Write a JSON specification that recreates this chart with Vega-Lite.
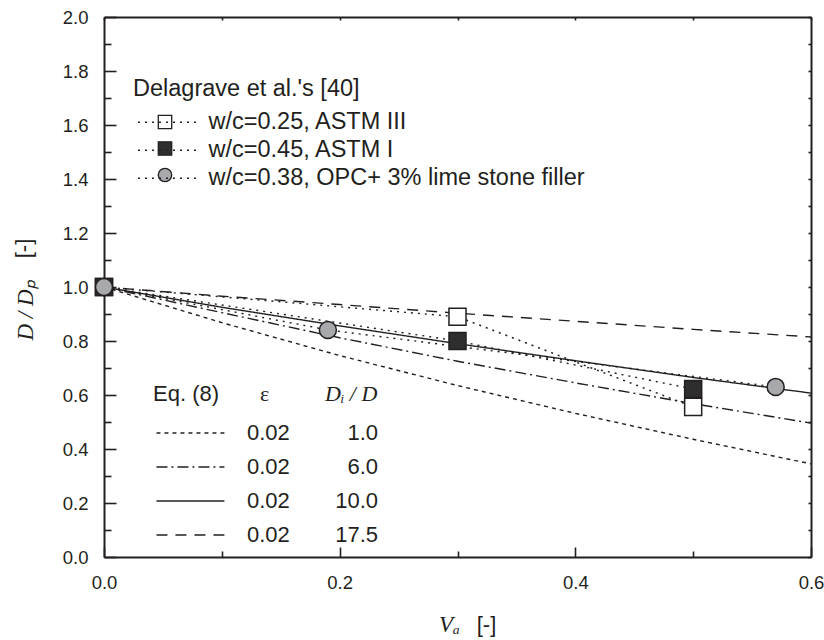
{
  "$schema": "https://vega.github.io/schema/vega-lite/v6.json",
  "width": 707,
  "height": 540,
  "autosize": {"type": "none"},
  "padding": {"left": 104, "top": 17, "right": 13, "bottom": 83},
  "background": "#ffffff",
  "datasets": {
    "model": [
      {"ratio": 1, "V": 0, "val": 1.0},
      {"ratio": 1, "V": 0.1, "val": 0.868},
      {"ratio": 1, "V": 0.2, "val": 0.746},
      {"ratio": 1, "V": 0.3, "val": 0.635},
      {"ratio": 1, "V": 0.4, "val": 0.532},
      {"ratio": 1, "V": 0.5, "val": 0.436},
      {"ratio": 1, "V": 0.6, "val": 0.345},
      {"ratio": 6, "V": 0, "val": 1.0},
      {"ratio": 6, "V": 0.1, "val": 0.905},
      {"ratio": 6, "V": 0.2, "val": 0.812},
      {"ratio": 6, "V": 0.3, "val": 0.725},
      {"ratio": 6, "V": 0.4, "val": 0.645},
      {"ratio": 6, "V": 0.5, "val": 0.568},
      {"ratio": 6, "V": 0.6, "val": 0.496},
      {"ratio": 10, "V": 0, "val": 1.0},
      {"ratio": 10, "V": 0.1, "val": 0.925},
      {"ratio": 10, "V": 0.2, "val": 0.856},
      {"ratio": 10, "V": 0.3, "val": 0.79},
      {"ratio": 10, "V": 0.4, "val": 0.727},
      {"ratio": 10, "V": 0.5, "val": 0.665},
      {"ratio": 10, "V": 0.6, "val": 0.607},
      {"ratio": 17.5, "V": 0, "val": 1.0},
      {"ratio": 17.5, "V": 0.1, "val": 0.966},
      {"ratio": 17.5, "V": 0.2, "val": 0.935},
      {"ratio": 17.5, "V": 0.3, "val": 0.903},
      {"ratio": 17.5, "V": 0.4, "val": 0.873},
      {"ratio": 17.5, "V": 0.5, "val": 0.843},
      {"ratio": 17.5, "V": 0.6, "val": 0.815}
    ],
    "measured": [
      {"series": "w/c=0.25, ASTM III", "V": 0, "val": 1.0},
      {"series": "w/c=0.25, ASTM III", "V": 0.3, "val": 0.89},
      {"series": "w/c=0.25, ASTM III", "V": 0.5, "val": 0.556},
      {"series": "w/c=0.45, ASTM I", "V": 0, "val": 1.0},
      {"series": "w/c=0.45, ASTM I", "V": 0.3, "val": 0.80},
      {"series": "w/c=0.45, ASTM I", "V": 0.5, "val": 0.622},
      {"series": "w/c=0.38, OPC+ 3% lime stone filler", "V": 0, "val": 1.0},
      {"series": "w/c=0.38, OPC+ 3% lime stone filler", "V": 0.19, "val": 0.841},
      {"series": "w/c=0.38, OPC+ 3% lime stone filler", "V": 0.57, "val": 0.63}
    ]
  },
  "layer": [
    {
      "data": {"name": "model"},
      "mark": {"type": "line", "color": "#231f20", "clip": true},
      "encoding": {
        "x": {
          "field": "V", "type": "quantitative",
          "scale": {"domain": [0, 0.6], "nice": false, "zero": false},
          "axis": {
            "orient": "bottom",
            "values": [0, 0.1, 0.2, 0.3, 0.4, 0.5, 0.6],
            "labelExpr": "round(datum.value*10) % 2 == 0 ? format(datum.value, '.1f') : ''",
            "tickSize": {"condition": {"test": "round(datum.value*10) % 2 == 0", "value": -10}, "value": -6},
            "labelPadding": 26.5,
            "title": "Vₐ",
            "titleFont": "Liberation Serif",
            "titleFontStyle": "italic",
            "titleFontSize": 23,
            "titleX": 345,
            "titleY": 56,
            "titleAlign": "center",
            "titleBaseline": "top"
          }
        },
        "y": {
          "field": "val", "type": "quantitative",
          "scale": {"domain": [0, 2], "nice": false, "zero": false},
          "axis": {
            "orient": "left",
            "values": [0, 0.1, 0.2, 0.3, 0.4, 0.5, 0.6, 0.7, 0.8, 0.9, 1.0, 1.1, 1.2, 1.3, 1.4, 1.5, 1.6, 1.7, 1.8, 1.9, 2.0],
            "labelExpr": "round(datum.value*10) % 2 == 0 ? format(datum.value, '.1f') : ''",
            "tickSize": {"condition": {"test": "round(datum.value*10) % 2 == 0", "value": -12}, "value": -7},
            "labelPadding": 28,
            "title": "D / Dₚ",
            "titleFont": "Liberation Serif",
            "titleFontStyle": "italic",
            "titleFontSize": 23,
            "titleAngle": 270,
            "titleX": -67,
            "titleY": 293,
            "titleAlign": "center",
            "titleBaseline": "bottom"
          }
        },
        "strokeDash": {
          "field": "ratio", "type": "nominal",
          "scale": {"range": [[4, 4], [11, 4, 2, 4], [1, 0], [11, 8]]},
          "legend": {
            "orient": "none", "legendX": 49, "legendY": 367,
            "title": "Eq. (8)",
            "labelExpr": "'0.02'",
            "symbolType": "M-1,0H8", "symbolSize": 228,
            "symbolStrokeWidth": 1.4, "symbolStrokeColor": "#231f20",
            "labelOffset": 72, "rowPadding": 12, "titlePadding": 16
          }
        },
        "opacity": {
          "field": "ratio", "type": "ordinal",
          "scale": {"domain": [1, 6, 10, 17.5], "range": [1, 1, 1, 1]},
          "legend": {
            "orient": "none", "legendX": 221, "legendY": 367,
            "title": "Dᵢ / D",
            "titleFont": "Liberation Serif", "titleFontStyle": "italic",
            "labelExpr": "format(datum.value, '.1f')",
            "symbolSize": 0, "symbolStrokeWidth": 0,
            "labelOffset": 31, "labelAlign": "right",
            "rowPadding": 12, "titlePadding": 16
          }
        },
        "strokeWidth": {
          "field": "ratio", "type": "ordinal",
          "scale": {"domain": [17.5, 10, 6, 1], "range": [1.4, 1.4, 1.4, 1.4]},
          "legend": {
            "orient": "none", "legendX": 156, "legendY": 367,
            "title": "ε",
            "titleFont": "Liberation Serif",
            "labelExpr": "''",
            "symbolSize": 0, "symbolStrokeWidth": 0,
            "rowPadding": 12, "titlePadding": 16
          }
        }
      }
    },
    {
      "data": {"name": "measured"},
      "mark": {"type": "line", "color": "#231f20", "strokeWidth": 1.4},
      "encoding": {
        "x": {
          "field": "V", "type": "quantitative",
          "axis": {
            "orient": "top",
            "values": [0, 0.1, 0.2, 0.3, 0.4, 0.5, 0.6],
            "labels": false,
            "tickSize": -3,
            "title": "[-]",
            "titleFont": "Liberation Sans",
            "titleFontSize": 22,
            "titleX": 382,
            "titleY": 597,
            "titleAlign": "center",
            "titleBaseline": "top"
          }
        },
        "y": {
          "field": "val", "type": "quantitative",
          "axis": {
            "orient": "right",
            "values": [0, 0.1, 0.2, 0.3, 0.4, 0.5, 0.6, 0.7, 0.8, 0.9, 1.0, 1.1, 1.2, 1.3, 1.4, 1.5, 1.6, 1.7, 1.8, 1.9, 2.0],
            "labels": false,
            "tickSize": -3,
            "title": "[-]",
            "titleFont": "Liberation Sans",
            "titleFontSize": 22,
            "titleAngle": 270,
            "titleX": -776,
            "titleY": 231,
            "titleAlign": "center",
            "titleBaseline": "bottom"
          }
        },
        "strokeDash": {
          "field": "series", "type": "nominal",
          "sort": ["w/c=0.25, ASTM III", "w/c=0.45, ASTM I", "w/c=0.38, OPC+ 3% lime stone filler"],
          "scale": {"range": [[2, 5], [2, 5], [2, 5]]},
          "legend": {
            "orient": "none", "legendX": 29, "legendY": 60,
            "title": "Delagrave et al.'s [40]",
            "titleFontSize": 23.5,
            "titleLimit": 700,
            "labelFontSize": 23.5,
            "symbolType": "M-1,0H8", "symbolSize": 184,
            "symbolStrokeWidth": 1.4, "symbolStrokeColor": "#231f20",
            "labelOffset": 52, "rowPadding": 3, "titlePadding": 10
          }
        }
      }
    },
    {
      "data": {"name": "measured"},
      "mark": {"type": "point", "filled": true, "size": 290, "strokeWidth": 1.5, "opacity": 1},
      "encoding": {
        "x": {"field": "V", "type": "quantitative", "axis": null},
        "y": {"field": "val", "type": "quantitative", "axis": null},
        "shape": {
          "field": "series", "type": "nominal",
          "scale": {
            "domain": ["w/c=0.25, ASTM III", "w/c=0.45, ASTM I", "w/c=0.38, OPC+ 3% lime stone filler"],
            "range": ["square", "square", "circle"]
          },
          "legend": {
            "orient": "none", "legendX": 50, "legendY": 94,
            "title": null, "labelExpr": "''",
            "symbolSize": 180, "symbolStrokeWidth": 1.3,
            "rowPadding": 4.5
          }
        },
        "fill": {
          "field": "series", "type": "nominal",
          "scale": {
            "domain": ["w/c=0.25, ASTM III", "w/c=0.45, ASTM I", "w/c=0.38, OPC+ 3% lime stone filler"],
            "range": ["#ffffff", "#2e2e2e", "#a7a9ac"]
          },
          "legend": {
            "orient": "none", "legendX": 50, "legendY": 94,
            "title": null, "labelExpr": "''",
            "symbolSize": 180, "symbolStrokeWidth": 1.3,
            "rowPadding": 4.5
          }
        },
        "stroke": {
          "field": "series", "type": "nominal",
          "scale": {
            "domain": ["w/c=0.25, ASTM III", "w/c=0.45, ASTM I", "w/c=0.38, OPC+ 3% lime stone filler"],
            "range": ["#231f20", "#231f20", "#231f20"]
          },
          "legend": {
            "orient": "none", "legendX": 50, "legendY": 94,
            "title": null, "labelExpr": "''",
            "symbolSize": 180, "symbolStrokeWidth": 1.3,
            "rowPadding": 4.5
          }
        }
      }
    }
  ],
  "resolve": {
    "axis": {"x": "independent", "y": "independent"},
    "scale": {"strokeDash": "independent"}
  },
  "config": {
    "view": {"stroke": null},
    "axis": {
      "grid": false,
      "domainColor": "#231f20",
      "domainWidth": 2,
      "tickColor": "#231f20",
      "tickWidth": 1.6,
      "labelFont": "Liberation Sans",
      "labelFontSize": 18.5,
      "labelColor": "#231f20",
      "labelOverlap": false,
      "labelFlush": false,
      "titleColor": "#231f20",
      "titleFontWeight": "normal"
    },
    "legend": {
      "padding": 0,
      "titleFont": "Liberation Sans",
      "titleFontSize": 22,
      "titleFontWeight": "normal",
      "titleColor": "#231f20",
      "titleLimit": 700,
      "labelFont": "Liberation Sans",
      "labelFontSize": 22,
      "labelColor": "#231f20",
      "labelLimit": 600
    }
  }
}
